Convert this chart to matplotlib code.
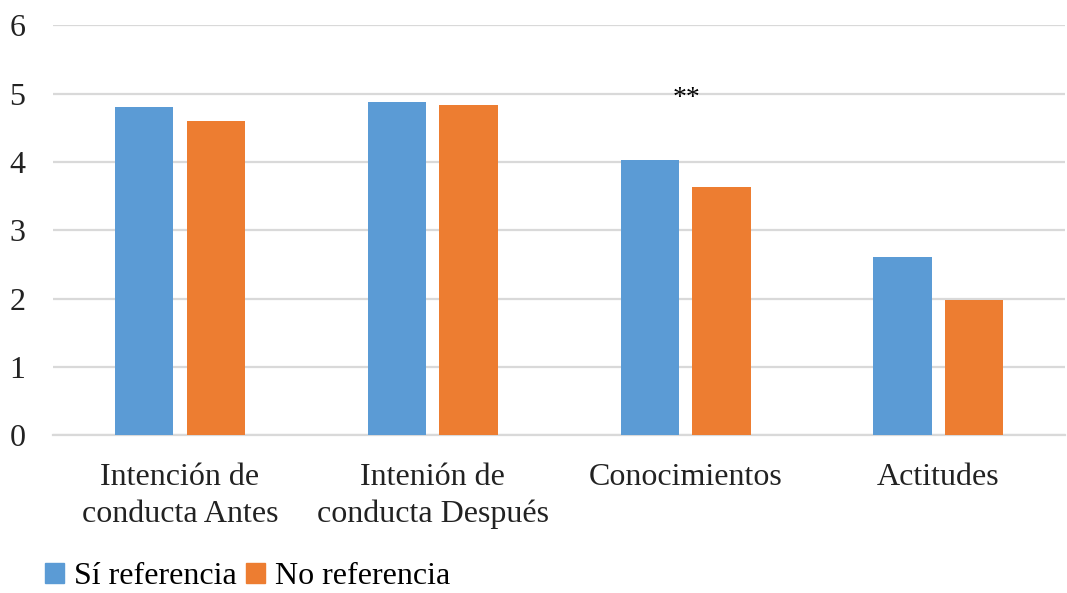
import numpy as np
import matplotlib.pyplot as plt
from matplotlib.patches import Patch

categories = ["Intención de\nconducta Antes", "Intenión de\nconducta Después", "Conocimientos", "Actitudes"]
si_referencia = [4.80, 4.88, 4.03, 2.61]
no_referencia = [4.60, 4.84, 3.64, 1.98]
series_names = ["Sí referencia", "No referencia"]
BLUE = "#5B9BD5"
ORANGE = "#ED7D31"

plt.rcParams['font.family'] = ['Liberation Serif', 'DejaVu Serif']

fig = plt.figure(figsize=(10.67, 5.93), dpi=100)
ax = fig.add_axes([0.05, 0.266, 0.948, 0.691])

x = np.arange(len(categories))
w = 0.23
off = 0.142
ax.bar(x - off, si_referencia, w, color=BLUE, zorder=3)
ax.bar(x + off, no_referencia, w, color=ORANGE, zorder=3)

# significance mark over Conocimientos
ax.text(x[2] + 0.003, 4.93, "**", ha="center", va="center", fontsize=20, zorder=4)

ax.set_xlim(-0.5, len(categories) - 0.5)
ax.set_ylim(0, 6)
ax.set_yticks(range(0, 7))
ax.yaxis.grid(True, color="#d9d9d9", linewidth=1.6, zorder=0)
ax.set_axisbelow(True)
for s in ["top", "right", "left"]:
    ax.spines[s].set_visible(False)
ax.spines["bottom"].set_color("#d9d9d9")
ax.spines["bottom"].set_linewidth(1.6)
ax.tick_params(axis="y", length=0, pad=20, labelsize=23, colors="#222222")
ax.tick_params(axis="x", length=0, pad=20, labelsize=23, colors="#222222")
ax.set_xticks(x)
ax.set_xticklabels(categories, linespacing=1.35)

handles = [Patch(color=BLUE), Patch(color=ORANGE)]
fig.legend(handles, series_names, loc="center left", bbox_to_anchor=(0.042, 0.027),
           ncol=2, frameon=False, fontsize=23, handlelength=0.6, handleheight=0.6,
           handletextpad=0.3, columnspacing=0.3, borderpad=0, borderaxespad=0)

fig.savefig("out.png", dpi=100)
